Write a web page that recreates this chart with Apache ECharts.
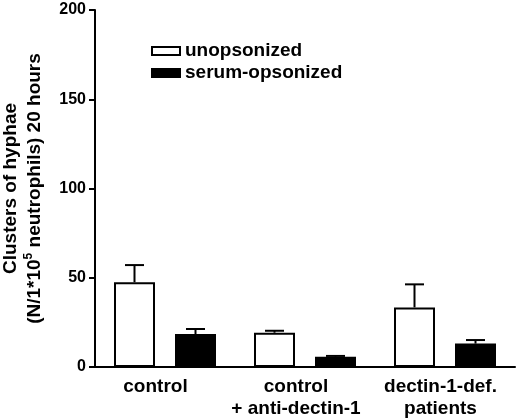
<!DOCTYPE html>
<html>
<head>
<meta charset="utf-8">
<script src="https://cdn.jsdelivr.net/npm/echarts@6/dist/echarts.min.js"></script>
<style>
html,body{margin:0;padding:0;background:#fff;}
#chart{width:520px;height:419px;}
</style>
</head>
<body>
<div id="chart"></div>
<script>
var categories = ['control', 'control\n+ anti-dectin-1', 'dectin-1-def.\npatients'];
var seriesNames = ['unopsonized', 'serum-opsonized'];
var unopsonized = [47.5, 19.2, 33.4];
var unopsonizedErr = [9.6, 1.1, 12.9];
var serumOpsonized = [18.5, 5.8, 13.1];
var serumOpsonizedErr = [2.8, 0.4, 2.0];
var yTicks = [0, 50, 100, 150, 200];

// label layout (style only): right padding to nudge each category label left
var labelPadRight = [19, 18, 9];

var FONT = '"Liberation Sans", Arial, Helvetica, sans-serif';
var BAR_W = 41, BAR_GAP = 20;

function errSeries(vals, errs, side) {
  return {
    type: 'custom',
    silent: true,
    z: 1,
    data: vals.map(function (v, i) { return [i, v, v + errs[i]]; }),
    renderItem: function (params, api) {
      var lo = api.coord([api.value(0), api.value(1)]);
      var hi = api.coord([api.value(0), api.value(2)]);
      var off = side * (BAR_W + BAR_GAP) / 2;
      var x = lo[0] + off;
      var cap = 9.5;
      return {
        type: 'group',
        children: [
          { type: 'line', shape: { x1: x, y1: lo[1], x2: x, y2: hi[1] }, style: { stroke: '#000', lineWidth: 2 } },
          { type: 'line', shape: { x1: x - cap, y1: hi[1], x2: x + cap, y2: hi[1] }, style: { stroke: '#000', lineWidth: 2 } }
        ]
      };
    }
  };
}

var chart = echarts.init(document.getElementById('chart'), null, { renderer: 'canvas' });
chart.setOption({
  animation: false,
  backgroundColor: '#fff',
  textStyle: { fontFamily: FONT },
  grid: { left: 95, right: 5, top: 10, bottom: 52, containLabel: false, outerBoundsMode: 'none' },
  legend: {
    orient: 'vertical',
    left: 151,
    top: 40,
    padding: 0,
    itemWidth: 28,
    itemHeight: 8,
    itemGap: 0,
    icon: 'rect',
    data: seriesNames,
    textStyle: { fontFamily: FONT, fontSize: 19, fontWeight: 'bold', color: '#000', lineHeight: 22 }
  },
  xAxis: {
    type: 'category',
    data: categories.map(function (c, i) {
      return { value: c, textStyle: { padding: [0, labelPadRight[i], 0, 0] } };
    }),
    axisLine: { lineStyle: { color: '#000', width: 2 } },
    axisTick: { show: false },
    axisLabel: { color: '#000', fontFamily: FONT, fontSize: 19, fontWeight: 'bold', margin: 9, lineHeight: 22, interval: 0 }
  },
  yAxis: {
    type: 'value',
    min: yTicks[0],
    max: yTicks[yTicks.length - 1],
    interval: 50,
    splitLine: { show: false },
    axisLine: { show: true, lineStyle: { color: '#000', width: 2 } },
    axisTick: { show: true, length: 6, lineStyle: { color: '#000', width: 2 } },
    axisLabel: { color: '#000', fontFamily: FONT, fontSize: 16, fontWeight: 'bold', margin: 9 },
    name: 'Clusters of hyphae\n(N/1*10{sup|5} neutrophils) 20 hours',
    nameLocation: 'middle',
    nameRotate: 90,
    nameGap: 48,
    nameTextStyle: {
      color: '#000', fontFamily: FONT, fontSize: 19, fontWeight: 'bold', lineHeight: 24, align: 'center',
      rich: { sup: { fontSize: 12, fontWeight: 'bold', color: '#000', fontFamily: FONT, verticalAlign: 'top', lineHeight: 24, padding: [0, 0, 8, 0] } }
    }
  },
  series: [
    {
      name: seriesNames[0], type: 'bar', data: unopsonized, barWidth: BAR_W, barGap: (BAR_GAP / BAR_W * 100) + '%',
      itemStyle: { color: '#fff', borderColor: '#000', borderWidth: 2 }, z: 2
    },
    {
      name: seriesNames[1], type: 'bar', data: serumOpsonized, barWidth: BAR_W,
      itemStyle: { color: '#000', borderColor: '#000', borderWidth: 2 }, z: 2
    },
    errSeries(unopsonized, unopsonizedErr, -1),
    errSeries(serumOpsonized, serumOpsonizedErr, 1)
  ]
});
</script>
</body>
</html>
